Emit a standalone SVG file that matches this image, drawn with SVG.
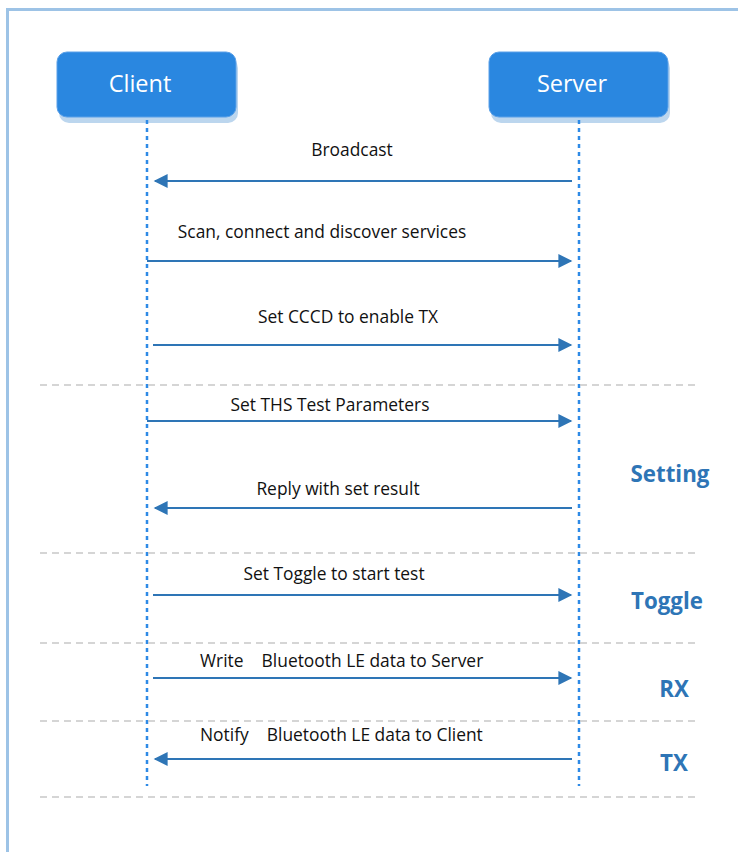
<svg xmlns="http://www.w3.org/2000/svg" width="738" height="852" viewBox="0 0 738 852">
<style>
.frame{fill:none;stroke:#9dc3e6;stroke-width:3}
.box{fill:#2a87e0;stroke:#5aa0e8;stroke-width:1}
.shadow{fill:#bcd6ee}
.title{font-family:"Open Sans","Liberation Sans",sans-serif;font-size:23.5px;fill:#ffffff;text-anchor:middle}
.life{stroke:#2e8ae6;stroke-width:2.5;stroke-dasharray:4 4;fill:none}
.sep{stroke:#c8c8c8;stroke-width:1.3;stroke-dasharray:7 5;fill:none}
.msg{stroke:#2e75b6;stroke-width:2;fill:none}
.lbl{font-family:"Open Sans","Liberation Sans",sans-serif;font-size:17.4px;fill:#111111}
.phase{font-family:"Open Sans","Liberation Sans",sans-serif;font-size:22.3px;font-weight:bold;fill:#2e75b6;text-anchor:middle}
</style>
<defs>
<marker id="ah" viewBox="0 0 10 10" refX="9" refY="5" markerWidth="8" markerHeight="7" orient="auto" markerUnits="strokeWidth">
<path d="M0,0 L10,5 L0,10 z" fill="#2e75b6"/>
</marker>
</defs>
<rect width="738" height="852" fill="#ffffff"/>
<path class="frame" d="M7.5,852 V9.5 H738"/>
<g id="client">
<rect class="shadow" x="59" y="58" width="179" height="65" rx="10"/>
<rect class="box" x="57" y="52" width="179" height="65" rx="10"/>
<text class="title" x="140" y="92">Client</text>
</g>
<g id="server">
<rect class="shadow" x="491" y="58" width="179" height="65" rx="10"/>
<rect class="box" x="489" y="52" width="179" height="65" rx="10"/>
<text class="title" x="572" y="92">Server</text>
</g>
<g id="lifelines">
<line class="life" x1="147" y1="120" x2="147" y2="786"/>
<line class="life" x1="579" y1="120" x2="579" y2="786"/>
</g>
<g id="separators">
<line class="sep" x1="40" y1="385" x2="697" y2="385"/>
<line class="sep" x1="40" y1="553" x2="697" y2="553"/>
<line class="sep" x1="40" y1="643" x2="697" y2="643"/>
<line class="sep" x1="40" y1="721" x2="697" y2="721"/>
<line class="sep" x1="40" y1="797" x2="697" y2="797"/>
</g>
<g id="connectors">
<line class="msg" x1="572" y1="181" x2="155" y2="181" marker-end="url(#ah)"/>
<line class="msg" x1="147" y1="261" x2="571" y2="261" marker-end="url(#ah)"/>
<line class="msg" x1="153" y1="345" x2="571" y2="345" marker-end="url(#ah)"/>
<line class="msg" x1="147" y1="421" x2="571" y2="421" marker-end="url(#ah)"/>
<line class="msg" x1="572" y1="508" x2="155" y2="508" marker-end="url(#ah)"/>
<line class="msg" x1="153" y1="595" x2="571" y2="595" marker-end="url(#ah)"/>
<line class="msg" x1="153" y1="678" x2="571" y2="678" marker-end="url(#ah)"/>
<line class="msg" x1="572" y1="759" x2="155" y2="759" marker-end="url(#ah)"/>
</g>
<g id="labels">
<text class="lbl" x="352" y="156" text-anchor="middle">Broadcast</text>
<text class="lbl" x="322" y="238" text-anchor="middle">Scan, connect and discover services</text>
<text class="lbl" x="348" y="323" text-anchor="middle">Set CCCD to enable TX</text>
<text class="lbl" x="330" y="411" text-anchor="middle">Set THS Test Parameters</text>
<text class="lbl" x="338" y="495" text-anchor="middle">Reply with set result</text>
<text class="lbl" x="334" y="580" text-anchor="middle">Set Toggle to start test</text>
<text class="lbl" x="200" y="667" xml:space="preserve">Write    Bluetooth LE data to Server</text>
<text class="lbl" x="200" y="741" xml:space="preserve">Notify    Bluetooth LE data to Client</text>
</g>
<g id="phases">
<text class="phase" x="670" y="482">Setting</text>
<text class="phase" x="667" y="609">Toggle</text>
<text class="phase" x="674" y="697">RX</text>
<text class="phase" x="674" y="771">TX</text>
</g>
</svg>
